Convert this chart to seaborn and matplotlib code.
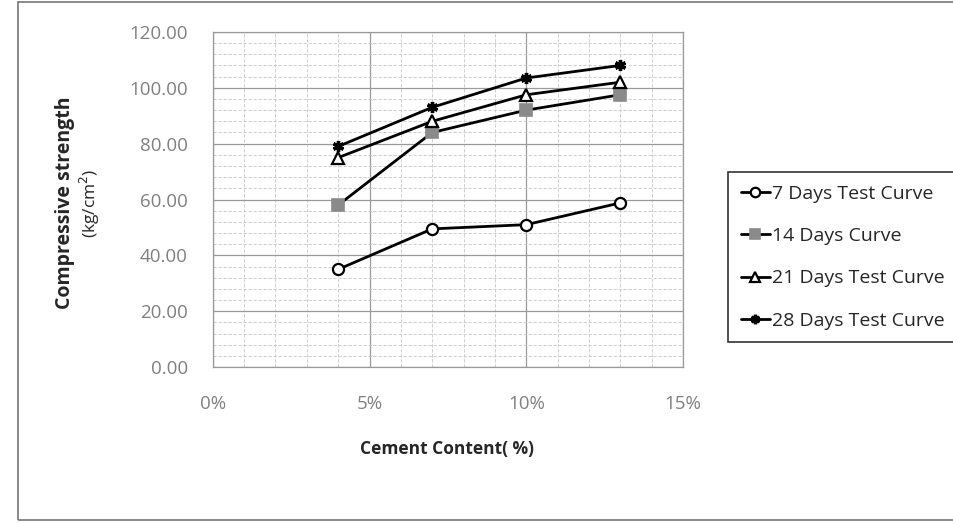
import matplotlib
matplotlib.use("Agg")
import matplotlib.pyplot as plt
import seaborn as sns
import pandas as pd
from matplotlib.patches import Rectangle
from matplotlib.ticker import MultipleLocator, FuncFormatter

cement = [4, 7, 10, 13]
days7 = [35.0, 49.5, 51.0, 58.8]
days14 = [58.0, 84.0, 92.0, 97.5]
days21 = [75.0, 88.0, 97.5, 102.0]
days28 = [79.0, 93.0, 103.5, 108.0]
series_names = ["7 Days Test Curve", "14 Days Curve", "21 Days Test Curve", "28 Days Test Curve"]

rows = []
for name, vals in zip(series_names, [days7, days14, days21, days28]):
    for c, v in zip(cement, vals):
        rows.append({"Cement": c, "Strength": v, "Series": name})
df = pd.DataFrame(rows)

sns.set_style("white")
plt.rcParams['font.family'] = ['Open Sans', 'DejaVu Sans']

fig = plt.figure(figsize=(9.54, 5.23), dpi=100)
ax = fig.add_axes([0.223, 0.298, 0.493, 0.641])

markers = {"7 Days Test Curve": "o", "14 Days Curve": "s",
           "21 Days Test Curve": "^", "28 Days Test Curve": "X"}
sns.lineplot(data=df, x="Cement", y="Strength", hue="Series", style="Series",
             markers=markers, dashes=False, palette=["black"] * 4, linewidth=2,
             markersize=8, ax=ax, legend=False)

face = {"7 Days Test Curve": "white", "14 Days Curve": "#8a8a8a",
        "21 Days Test Curve": "white", "28 Days Test Curve": "black"}
edge = {"7 Days Test Curve": "black", "14 Days Curve": "#8a8a8a",
        "21 Days Test Curve": "black", "28 Days Test Curve": "black"}
ew = {"7 Days Test Curve": 1.6, "14 Days Curve": 1.2,
      "21 Days Test Curve": 1.6, "28 Days Test Curve": 2.4}
handles = []
for line, name in zip(ax.get_lines(), series_names):
    if name == "28 Days Test Curve":
        line.set_marker((6, 2, 0))
    line.set_markerfacecolor(face[name])
    line.set_markeredgecolor(edge[name])
    line.set_markeredgewidth(ew[name])
    line.set_label(name)
    handles.append(line)

ax.set_xlim(0, 15)
ax.set_ylim(0, 120)
ax.xaxis.set_major_locator(MultipleLocator(5))
ax.xaxis.set_minor_locator(MultipleLocator(1))
ax.yaxis.set_major_locator(MultipleLocator(20))
ax.yaxis.set_minor_locator(MultipleLocator(4))
ax.xaxis.set_major_formatter(FuncFormatter(lambda v, p: f"{int(v)}%"))
ax.yaxis.set_major_formatter(FuncFormatter(lambda v, p: f"{v:.2f}"))
ax.grid(which="major", color="#9a9a9a", linewidth=0.9)
ax.grid(which="minor", color="#c8c8c8", linewidth=0.6, linestyle=(0, (4, 2)))
for s in ax.spines.values():
    s.set_color("#9a9a9a")
    s.set_linewidth(0.9)
ax.tick_params(axis="both", which="both", length=0, colors="#808080", labelsize=13.5)
ax.tick_params(axis="x", pad=20)
ax.tick_params(axis="y", pad=18)
ax.set_xlabel("")
ax.set_ylabel("")

fig.text(0.469, 0.1415, "Cement Content( %)", ha="center", va="center",
         fontsize=12.5, fontweight="bold")
fig.text(0.068, 0.612, "Compressive strength", rotation=90, ha="center", va="center",
         fontsize=14, fontweight="bold")
fig.text(0.094, 0.612, "(kg/cm$^2$)", rotation=90, ha="center", va="center",
         fontsize=12.5)

leg = fig.legend(handles=handles, labels=series_names, loc="upper left",
                 bbox_to_anchor=(0.763, 0.671), frameon=True, fontsize=14,
                 handlelength=1.5, handletextpad=0.1, labelspacing=1.25,
                 borderpad=0.65, borderaxespad=0, fancybox=False, markerscale=0.85)
leg.get_frame().set_edgecolor("black")
leg.get_frame().set_linewidth(1.2)

fig.patches.append(Rectangle((0.019, 0.006), 1.1, 0.99, transform=fig.transFigure,
                             fill=False, edgecolor="#777777", linewidth=1.2))

fig.savefig("out.png", dpi=100)
